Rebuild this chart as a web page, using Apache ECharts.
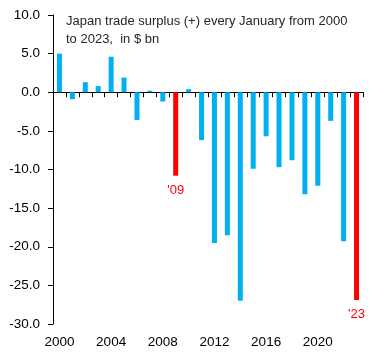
<!DOCTYPE html>
<html><head><meta charset="utf-8">
<script src="https://cdn.jsdelivr.net/npm/echarts@6/dist/echarts.min.js"></script>
<style>html,body{margin:0;padding:0;background:#fff}#c{width:384px;height:360px}</style>
</head><body><div id="c"></div>
<script>
const years = ['2000','2001','2002','2003','2004','2005','2006','2007','2008','2009','2010','2011','2012','2013','2014','2015','2016','2017','2018','2019','2020','2021','2022','2023'];
const surplus = [5.0,-0.9,1.3,0.8,4.6,1.9,-3.6,0.2,-1.2,-10.8,0.4,-6.2,-19.5,-18.5,-27.0,-9.9,-5.7,-9.7,-8.8,-13.2,-12.1,-3.7,-19.3,-26.9];
const highlighted = {'2009': "'09", '2023': "'23"};
const yTicks = [-30, -25, -20, -15, -10, -5, 0, 5, 10];
const titleText = 'Japan trade surplus (+) every January from 2000\nto 2023,  in $ bn';

const blue = '#00B0F0', red = '#FF0000';
const font = 'Liberation Sans';
const data = surplus.map((v, i) => {
  const y = years[i];
  if (highlighted[y]) {
    return {value: v, itemStyle: {color: red},
      label: {show: true, position: 'bottom', distance: 8, formatter: highlighted[y],
        color: red, fontSize: 13, fontFamily: font}};
  }
  return {value: v};
});

const chart = echarts.init(document.getElementById('c'), null, {renderer: 'canvas'});
chart.setOption({
  animation: false,
  title: {text: titleText, left: 61, top: 7,
    textStyle: {fontSize: 13, fontWeight: 'normal', color: '#262626', fontFamily: font, lineHeight: 18}},
  grid: {left: 53, right: 21, top: 15, bottom: 36},
  xAxis: [{
    type: 'category', data: years, position: 'bottom',
    axisLine: {onZero: true, lineStyle: {color: '#000', width: 1}},
    axisTick: {show: true, length: 5, interval: 0, lineStyle: {color: '#000'}},
    axisLabel: {show: false}
  }, {
    type: 'category', data: years, position: 'bottom',
    axisLine: {show: false}, axisTick: {show: false},
    axisLabel: {interval: 3, margin: 11, fontSize: 13.5, color: '#000', fontFamily: font}
  }],
  yAxis: {
    type: 'value', min: yTicks[0], max: yTicks[yTicks.length - 1], interval: 5,
    axisLine: {show: true, lineStyle: {color: '#000'}},
    axisTick: {show: true, length: 5, lineStyle: {color: '#000'}},
    splitLine: {show: false},
    axisLabel: {margin: 13, fontSize: 13.5, color: '#000', fontFamily: font,
      formatter: v => v.toFixed(1)}
  },
  series: [{
    type: 'bar', xAxisIndex: 0, data: data, barWidth: 5,
    itemStyle: {color: blue}
  }]
});
</script></body></html>
